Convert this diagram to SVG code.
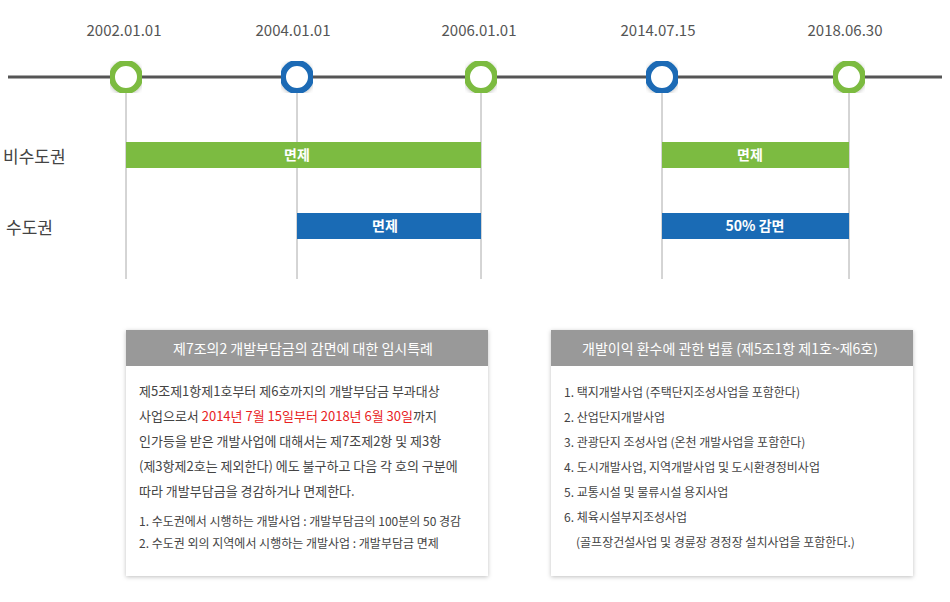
<svg xmlns="http://www.w3.org/2000/svg" width="950" height="602" viewBox="0 0 950 602">
<defs>
<filter id="sh" x="-5%" y="-5%" width="110%" height="110%"><feDropShadow dx="0" dy="1" stdDeviation="2" flood-color="#000" flood-opacity="0.25"/></filter>
<style>
text{font-family:"Noto Sans CJK KR","Noto Sans",sans-serif;}
.date{font-size:15px;fill:#555;text-anchor:middle;}
.vl{stroke:#aaa;stroke-width:1;}
.g{fill:#7cbb41;}.b{fill:#1a6bb5;}
.bt{font-size:14px;fill:#fff;text-anchor:middle;font-weight:bold;}
.rl{font-size:17px;fill:#444;}
.hd{fill:#999;}
.ht{font-size:14px;fill:#fff;text-anchor:middle;}
.tx{font-size:13px;fill:#444;}
.sm{font-size:12px;fill:#444;}
</style>
</defs>
<g id="axis">
<line x1="8" y1="77" x2="942" y2="77" stroke="#555" stroke-width="3"/>
</g>
<g id="connectors">
<line class="vl" x1="126" y1="92" x2="126" y2="279"/>
<line class="vl" x1="297" y1="92" x2="297" y2="279"/>
<line class="vl" x1="481" y1="92" x2="481" y2="279"/>
<line class="vl" x1="662" y1="92" x2="662" y2="279"/>
<line class="vl" x1="849" y1="92" x2="849" y2="279"/>
</g>
<g id="d1"><text class="date" x="124" y="36">2002.01.01</text><circle cx="126" cy="77" r="14" fill="#fff" stroke="#7cbb41" stroke-width="6" filter="url(#sh)"/></g>
<g id="d2"><text class="date" x="293" y="36">2004.01.01</text><circle cx="297" cy="77" r="14" fill="#fff" stroke="#1a6bb5" stroke-width="6" filter="url(#sh)"/></g>
<g id="d3"><text class="date" x="479" y="36">2006.01.01</text><circle cx="481" cy="77" r="14" fill="#fff" stroke="#7cbb41" stroke-width="6" filter="url(#sh)"/></g>
<g id="d4"><text class="date" x="658" y="36">2014.07.15</text><circle cx="662" cy="77" r="14" fill="#fff" stroke="#1a6bb5" stroke-width="6" filter="url(#sh)"/></g>
<g id="d5"><text class="date" x="845" y="36">2018.06.30</text><circle cx="849" cy="77" r="14" fill="#fff" stroke="#7cbb41" stroke-width="6" filter="url(#sh)"/></g>
<g id="rows"><text class="rl" x="3" y="163">비수도권</text><text class="rl" x="6" y="234">수도권</text></g>
<g id="bar1"><rect class="g" x="126" y="142" width="355" height="26"/><text class="bt" x="297" y="160">면제</text></g>
<g id="bar2"><rect class="b" x="297" y="213" width="184" height="26"/><text class="bt" x="385" y="231">면제</text></g>
<g id="bar3"><rect class="g" x="662" y="142" width="187" height="26"/><text class="bt" x="750" y="160">면제</text></g>
<g id="bar4"><rect class="b" x="662" y="213" width="187" height="26"/><text class="bt" x="755" y="231">50% 감면</text></g>
<g id="box1">
<rect x="126" y="330" width="362" height="246" fill="#fff" filter="url(#sh)"/>
<rect class="hd" x="126" y="330" width="362" height="36"/>
<text class="ht" x="303" y="354">제7조의2 개발부담금의 감면에 대한 임시특례</text>
<text class="tx" x="139" y="396">제5조제1항제1호부터 제6호까지의 개발부담금 부과대상</text>
<text class="tx" x="139" y="421">사업으로서 <tspan fill="#e8221e">2014년 7월 15일부터 2018년 6월 30일</tspan>까지</text>
<text class="tx" x="139" y="446">인가등을 받은 개발사업에 대해서는 제7조제2항 및 제3항</text>
<text class="tx" x="139" y="471">(제3항제2호는 제외한다) 에도 불구하고 다음 각 호의 구분에</text>
<text class="tx" x="139" y="496">따라 개발부담금을 경감하거나 면제한다.</text>
<text class="sm" x="139" y="526">1. 수도권에서 시행하는 개발사업 : 개발부담금의 100분의 50 경감</text>
<text class="sm" x="139" y="548">2. 수도권 외의 지역에서 시행하는 개발사업 : 개발부담금 면제</text>
</g>
<g id="box2">
<rect x="551" y="330" width="362" height="246" fill="#fff" filter="url(#sh)"/>
<rect class="hd" x="551" y="330" width="362" height="36"/>
<text class="ht" x="730" y="354">개발이익 환수에 관한 법률 (제5조1항 제1호~제6호)</text>
<text class="sm" x="564" y="397">1. 택지개발사업 (주택단지조성사업을 포함한다)</text>
<text class="sm" x="564" y="422">2. 산업단지개발사업</text>
<text class="sm" x="564" y="447">3. 관광단지 조성사업 (온천 개발사업을 포함한다)</text>
<text class="sm" x="564" y="472">4. 도시개발사업, 지역개발사업 및 도시환경정비사업</text>
<text class="sm" x="564" y="497">5. 교통시설 및 물류시설 용지사업</text>
<text class="sm" x="564" y="522">6. 체육시설부지조성사업</text>
<text class="sm" x="576" y="547">(골프장건설사업 및 경륜장 경정장 설치사업을 포함한다.)</text>
</g>
</svg>
